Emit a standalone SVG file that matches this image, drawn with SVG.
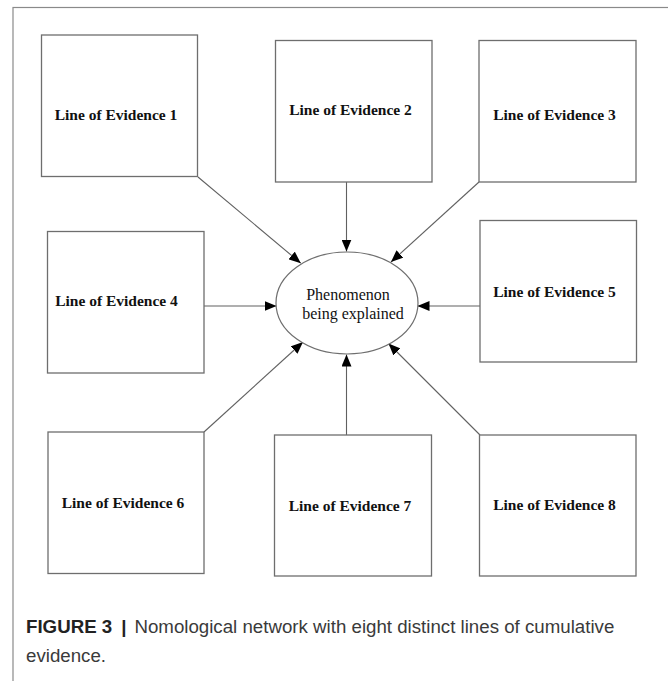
<svg xmlns="http://www.w3.org/2000/svg" width="668" height="681" viewBox="0 0 668 681">
<defs>
<marker id="ah" viewBox="0 0 12 10" refX="12" refY="5" markerWidth="12" markerHeight="10" markerUnits="userSpaceOnUse" orient="auto">
<path d="M0,0 L12,5 L0,10 Z" fill="#000"/>
</marker>
<style>
.box{fill:#fff;stroke:#6e6e6e;stroke-width:1.3}
.lbl{font-family:"Liberation Serif","Times New Roman",serif;font-weight:bold;font-size:15.5px;fill:#111;text-anchor:middle;dominant-baseline:central}
.conn{stroke:#606060;stroke-width:1.1;fill:none;marker-end:url(#ah)}
.cap{font-family:"Liberation Sans",Arial,sans-serif;font-size:18.7px;fill:#3a3a3a}
</style>
</defs>
<rect x="0" y="0" width="668" height="681" fill="#fff"/>
<rect x="13" y="7.5" width="660" height="690" fill="none" stroke="#8a8a8a" stroke-width="1.2"/>
<g id="connectors">
<line class="conn" x1="198" y1="177" x2="300.8" y2="263.2"/>
<line class="conn" x1="346.5" y1="182" x2="346.5" y2="251.5"/>
<line class="conn" x1="479" y1="182" x2="391" y2="262"/>
<line class="conn" x1="204" y1="306" x2="276.5" y2="306"/>
<line class="conn" x1="480" y1="306" x2="417.5" y2="306"/>
<line class="conn" x1="204" y1="432" x2="303" y2="342"/>
<line class="conn" x1="346.5" y1="435" x2="346.5" y2="354.5"/>
<line class="conn" x1="480" y1="435" x2="388.5" y2="343.5"/>
</g>
<g id="n1"><rect class="box" x="41.5" y="35" width="156" height="141.5"/><text class="lbl" x="116" y="114">Line of Evidence 1</text></g>
<g id="n2"><rect class="box" x="275.5" y="40.5" width="156.5" height="141.5"/><text class="lbl" x="350.5" y="109">Line of Evidence 2</text></g>
<g id="n3"><rect class="box" x="479" y="40.5" width="157" height="141.5"/><text class="lbl" x="554.5" y="114">Line of Evidence 3</text></g>
<g id="n4"><rect class="box" x="47.5" y="231.5" width="156.5" height="141.5"/><text class="lbl" x="116.5" y="300.5">Line of Evidence 4</text></g>
<g id="n5"><rect class="box" x="480" y="220.5" width="156.5" height="141.5"/><text class="lbl" x="554.5" y="291">Line of Evidence 5</text></g>
<g id="n6"><rect class="box" x="48" y="432" width="156" height="141.5"/><text class="lbl" x="123" y="502.5">Line of Evidence 6</text></g>
<g id="n7"><rect class="box" x="274.5" y="435" width="157" height="141"/><text class="lbl" x="350" y="505">Line of Evidence 7</text></g>
<g id="n8"><rect class="box" x="479.5" y="435" width="156.5" height="141"/><text class="lbl" x="554.5" y="504.5">Line of Evidence 8</text></g>
<g id="center">
<ellipse cx="347" cy="303" rx="71" ry="51" fill="#fff" stroke="#6e6e6e" stroke-width="1.2"/>
<text x="348" y="294" font-family="'Liberation Serif','Times New Roman',serif" font-size="16" fill="#111" text-anchor="middle" dominant-baseline="central">Phenomenon</text>
<text x="353" y="313" font-family="'Liberation Serif','Times New Roman',serif" font-size="16" fill="#111" text-anchor="middle" dominant-baseline="central">being explained</text>
</g>
<text class="cap" x="26" y="633"><tspan font-weight="bold" fill="#222">FIGURE 3</tspan><tspan font-weight="bold" fill="#222" dx="9">|</tspan><tspan dx="8">Nomological network with eight distinct lines of cumulative</tspan></text>
<text class="cap" x="26" y="662">evidence.</text>
</svg>
